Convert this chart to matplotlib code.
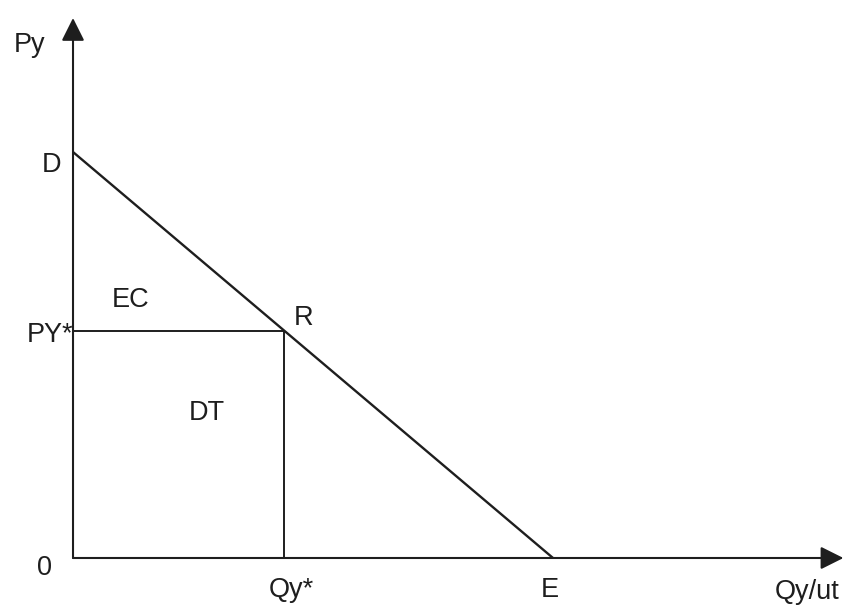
import matplotlib
matplotlib.use("Agg")
import matplotlib.pyplot as plt
import numpy as np

# demand line intercepts and the chosen point R
d_price = 10.0      # D, price intercept
e_qty = 10.0        # E, quantity intercept
q_star = 4.4        # Qy*
p_star = d_price * (1 - q_star / e_qty)   # PY*
x_axis_end = 16.05
y_axis_end = 13.3

ink = "#1e1e1e"
plt.rcParams['font.family'] = ['Liberation Sans', 'DejaVu Sans']

fig = plt.figure(figsize=(8.5, 6.07), dpi=100)
ax = fig.add_axes([0, 0, 1, 1])
ax.set_xlim(-1.521, 16.1875)
ax.set_ylim(-1.207, 13.744)
ax.axis('off')

arrow = dict(arrowstyle="-|>,head_length=0.7,head_width=0.35", color=ink,
             lw=1.5, shrinkA=0, shrinkB=0, mutation_scale=20)
ax.annotate("", xy=(x_axis_end, 0), xytext=(0, 0), arrowprops=arrow)
ax.annotate("", xy=(0, y_axis_end), xytext=(0, 0), arrowprops=arrow)

# demand line D-E
ax.plot([0, e_qty], [d_price, 0], color=ink, lw=1.7, solid_capstyle='butt')
# PY* and Qy* guides
ax.plot([0, q_star], [p_star, p_star], color=ink, lw=1.4)
ax.plot([q_star, q_star], [p_star, 0], color=ink, lw=1.4)

fs = 19.5
ax.text(-0.9, 12.64, "Py", fontsize=fs, color=ink, ha='center', va='center')
ax.text(-0.44, 9.68, "D", fontsize=fs, color=ink, ha='center', va='center')
ax.text(1.19, 6.35, "EC", fontsize=fs, color=ink, ha='center', va='center')
ax.text(0.0, p_star - 0.1, "PY*", fontsize=fs, color=ink, ha='right', va='center')
ax.text(4.81, 5.91, "R", fontsize=fs, color=ink, ha='center', va='center')
ax.text(2.79, 3.57, "DT", fontsize=fs, color=ink, ha='center', va='center')
ax.text(-0.6, -0.25, "0", fontsize=fs, color=ink, ha='center', va='center')
ax.text(q_star + 0.14, -0.79, "Qy*", fontsize=fs, color=ink, ha='center', va='center')
ax.text(e_qty - 0.06, -0.79, "E", fontsize=fs, color=ink, ha='center', va='center')
ax.text(15.3, -0.84, "Qy/ut", fontsize=fs, color=ink, ha='center', va='center')

fig.savefig("out.png", dpi=100)
